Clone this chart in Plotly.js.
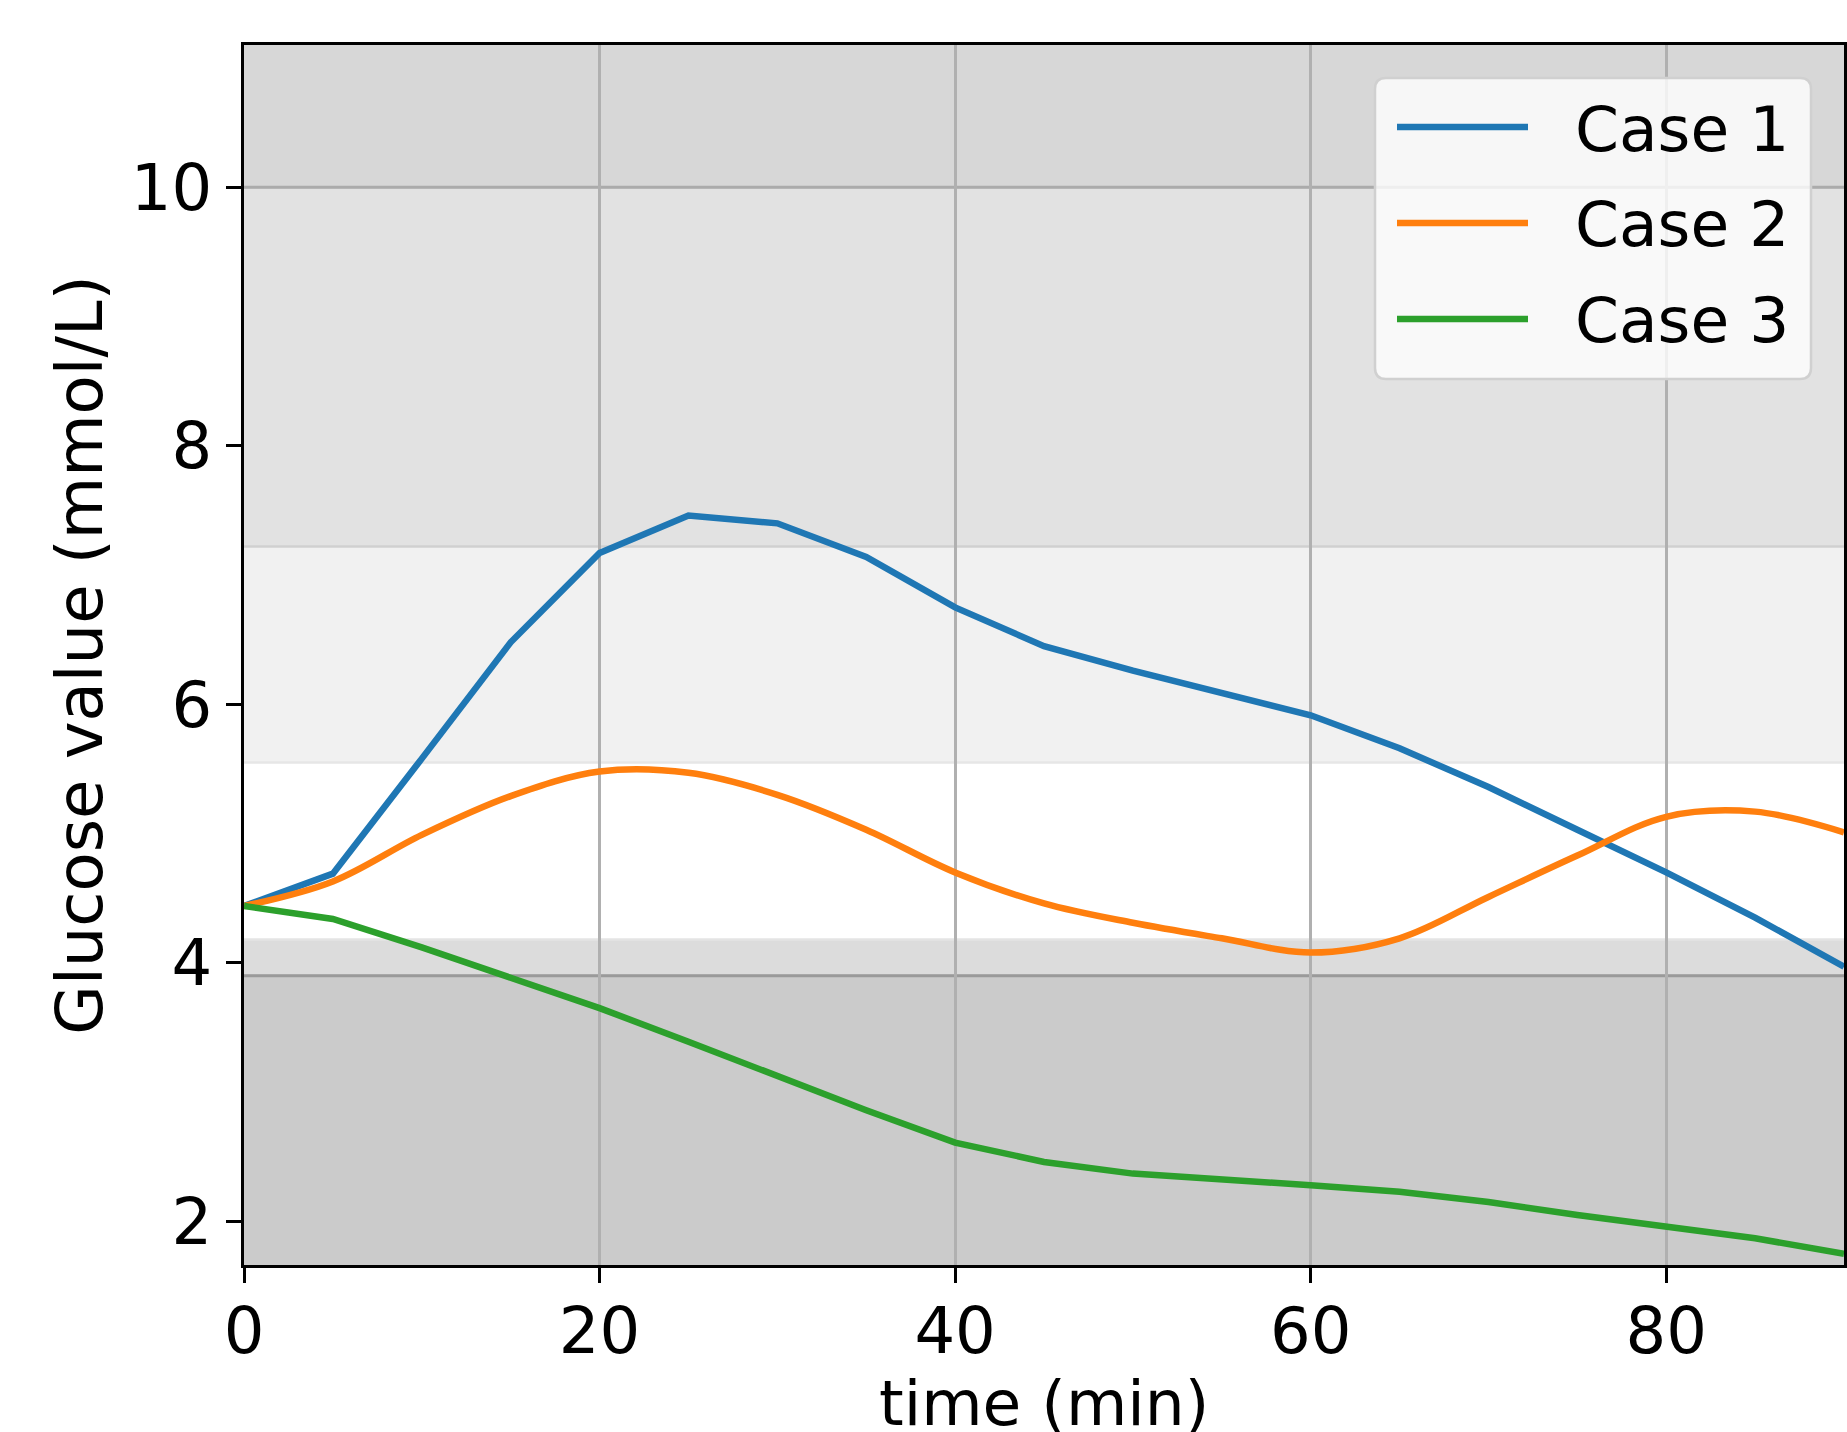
<!DOCTYPE html>
<html>
<head>
<meta charset="utf-8">
<script src="https://cdn.plot.ly/plotly-3.0.1.min.js"></script>
<style>html,body{margin:0;padding:0;background:#fff;}#chart{width:1847px;height:1432px;}</style>
</head>
<body>
<div id="chart"></div>
<script>
// ---- data ----
const seriesNames = ["Case 1", "Case 2", "Case 3"];
const seriesColors = ["#1f77b4", "#ff7f0e", "#2ca02c"];
const timeMin = [0, 5, 10, 15, 20, 25, 30, 35, 40, 45, 50, 55, 60, 65, 70, 75, 80, 85, 90];
const case1 = [4.44, 4.69, 5.58, 6.48, 7.17, 7.46, 7.40, 7.14, 6.75, 6.45, 6.26, 6.09, 5.915, 5.66, 5.36, 5.03, 4.70, 4.35, 3.97];
const case2 = [4.44, 4.63, 4.99, 5.29, 5.48, 5.47, 5.30, 5.03, 4.70, 4.46, 4.31, 4.19, 4.08, 4.19, 4.51, 4.83, 5.13, 5.17, 5.01];
const case3 = [4.44, 4.34, 4.12, 3.89, 3.65, 3.39, 3.12, 2.86, 2.61, 2.46, 2.37, 2.33, 2.28, 2.23, 2.15, 2.05, 1.96, 1.87, 1.75];
const xTicks = [0, 20, 40, 60, 80];
const yTicks = [2, 4, 6, 8, 10];
const xTitle = "time (min)";
const yTitle = "Glucose value (mmol/L)";
// glucose zones (mmol/L)
const zoneEdges = [3.9, 4.18, 5.55, 7.22, 10.0];

// ---- layout geometry ----
const W = 1847, H = 1432;
const M = {l: 244, r: 3, t: 45, b: 167};
const xRange = [0, 90];
const yRange = [1.663, 11.10];
const FONT = "DejaVu Sans, Liberation Sans, sans-serif";
const LW = 6.5;

const traces = [case1, case2, case3].map((ys, i) => ({
  x: timeMin, y: ys, type: "scatter", mode: "lines",
  name: seriesNames[i],
  line: {color: seriesColors[i], width: LW, shape: i === 1 ? "spline" : "linear", smoothing: 1},
  showlegend: false, hoverinfo: "skip"
}));

// background zones
const zoneFills = ["#cbcbcb", "#dcdcdc", "#ffffff", "#f1f1f1", "#e2e2e2", "#d7d7d7"];
const zoneBounds = [yRange[0]].concat(zoneEdges).concat([yRange[1]]);
const shapes = [];
for (let i = 0; i < zoneFills.length; i++) {
  shapes.push({type: "rect", xref: "paper", yref: "y", x0: 0, x1: 1,
    y0: zoneBounds[i], y1: zoneBounds[i + 1], fillcolor: zoneFills[i],
    line: {width: 0}, layer: "below"});
}
// soft edges between zones
const edgeColors = ["#c8c8c8", "#e4e4e4", "#e6e6e6", "#d0d0d0", "#c8c8c8"];
zoneEdges.forEach((v, i) => {
  shapes.push({type: "line", xref: "paper", yref: "y", x0: 0, x1: 1, y0: v, y1: v,
    line: {color: edgeColors[i], width: 2.5}, layer: "below"});
});
// threshold lines at 10 and 3.9
[zoneEdges[4], zoneEdges[0]].forEach((v, i) => {
  shapes.push({type: "line", xref: "paper", yref: "y", x0: 0, x1: 1, y0: v, y1: v,
    line: {color: i === 0 ? "#ababab" : "#9a9a9a", width: 3}, layer: "between"});
});

// custom legend (pixel -> paper conversion)
const pw = W - M.l - M.r, ph = H - M.t - M.b;
const px = x => (x - M.l) / pw;
const py = y => 1 - (y - M.t) / ph;
const lx0 = 1375, lx1 = 1811, ly0 = 78, ly1 = 379, rr = 11;
const rx = rr / pw, ry = rr / ph;
const X0 = px(lx0), X1 = px(lx1), Y0 = py(ly1), Y1 = py(ly0);
const legPath = `M ${X0 + rx},${Y1} L ${X1 - rx},${Y1} Q ${X1},${Y1} ${X1},${Y1 - ry} ` +
  `L ${X1},${Y0 + ry} Q ${X1},${Y0} ${X1 - rx},${Y0} L ${X0 + rx},${Y0} Q ${X0},${Y0} ${X0},${Y0 + ry} ` +
  `L ${X0},${Y1 - ry} Q ${X0},${Y1} ${X0 + rx},${Y1} Z`;
shapes.push({type: "path", xref: "paper", yref: "paper", path: legPath,
  fillcolor: "rgba(255,255,255,0.8)", line: {color: "#d0d0d0", width: 2.5}, layer: "above"});
const rowY = [127, 223, 319];
const annotations = [];
seriesNames.forEach((nm, i) => {
  shapes.push({type: "line", xref: "paper", yref: "paper",
    x0: px(1397), x1: px(1528), y0: py(rowY[i]), y1: py(rowY[i]),
    line: {color: seriesColors[i], width: LW}, layer: "above"});
  annotations.push({xref: "paper", yref: "paper", x: px(1573), y: py(rowY[i] + 2),
    xanchor: "left", yanchor: "middle", text: nm, showarrow: false,
    font: {family: FONT, size: 63, color: "#000"}});
});
// x-axis title (placed like the reference, partly past the bottom edge)
annotations.push({xref: "paper", yref: "paper", x: 0.5, y: py(1403),
  xanchor: "center", yanchor: "middle", text: xTitle, showarrow: false,
  font: {family: FONT, size: 63, color: "#000"}});

const layout = {
  width: W, height: H,
  margin: M,
  paper_bgcolor: "#ffffff",
  plot_bgcolor: "#ffffff",
  font: {family: FONT, color: "#000"},
  showlegend: false,
  xaxis: {
    range: xRange, tickvals: xTicks, ticktext: xTicks.map(String),
    showgrid: true, gridcolor: "#b0b0b0", gridwidth: 3,
    zeroline: false, showline: true, linecolor: "#000", linewidth: 3, mirror: true,
    ticks: "outside", ticklen: 15, tickwidth: 3, tickcolor: "#000",
    ticklabelstandoff: -7,
    tickfont: {family: FONT, size: 64, color: "#000"}
  },
  yaxis: {
    range: yRange, tickvals: yTicks, ticktext: yTicks.map(String),
    showgrid: false,
    zeroline: false, showline: true, linecolor: "#000", linewidth: 3, mirror: true,
    ticks: "outside", ticklen: 15, tickwidth: 3, tickcolor: "#000",
    ticklabelstandoff: 1,
    tickfont: {family: FONT, size: 64, color: "#000"},
    title: {text: yTitle, font: {family: FONT, size: 64, color: "#000"}, standoff: 8}
  },
  shapes: shapes,
  annotations: annotations
};

Plotly.newPlot("chart", traces, layout, {staticPlot: true, displayModeBar: false});
</script>
</body>
</html>
